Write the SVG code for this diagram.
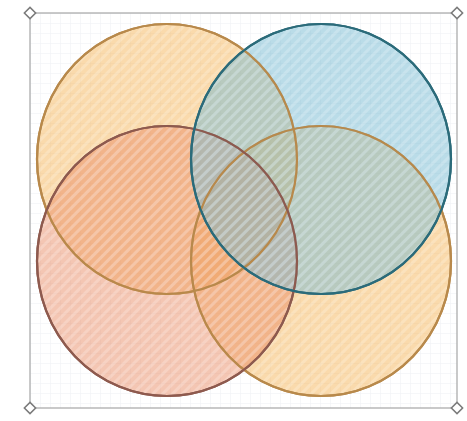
<svg xmlns="http://www.w3.org/2000/svg" width="467" height="421" viewBox="0 0 467 421">
  <defs>
    <pattern id="grid" width="10" height="10" patternUnits="userSpaceOnUse" x="30" y="13">
      <path d="M10 0 L0 0 0 10" fill="none" stroke="#eef0f3" stroke-width="1"/>
    </pattern>
    <pattern id="hOrange" width="7" height="7" patternUnits="userSpaceOnUse" patternTransform="rotate(45)">
      <rect width="7" height="7" fill="#f6b65a" fill-opacity="0.5"/>
      <rect width="3" height="7" fill="#ffffff" fill-opacity="0.2"/>
    </pattern>
    <pattern id="hBlue" width="7" height="7" patternUnits="userSpaceOnUse" patternTransform="rotate(45)">
      <rect width="7" height="7" fill="#76bad2" fill-opacity="0.5"/>
      <rect width="3" height="7" fill="#ffffff" fill-opacity="0.2"/>
    </pattern>
    <pattern id="hRed" width="7" height="7" patternUnits="userSpaceOnUse" patternTransform="rotate(45)">
      <rect width="7" height="7" fill="#ea8d68" fill-opacity="0.5"/>
      <rect width="3" height="7" fill="#ffffff" fill-opacity="0.2"/>
    </pattern>
  </defs>
  <style>
    .sel { fill: url(#grid); stroke: #a6a6a6; stroke-width: 1.2; }
    .handle { fill: #ffffff; stroke: #7a7a7a; stroke-width: 1.5; }
    .set { stroke-width: 2.2; }
    .orange { fill: url(#hOrange); stroke: #b8894b; }
    .blue { fill: url(#hBlue); stroke: #2b6b7a; }
    .red { fill: url(#hRed); stroke: #8e5a4e; }
  </style>
  <rect width="467" height="421" fill="#ffffff"/>
  <g id="selection">
    <rect class="sel" x="30" y="13" width="427" height="395"/>
  </g>
  <g id="set-top-left">
    <ellipse class="set orange" cx="167" cy="159" rx="130" ry="135"/>
  </g>
  <g id="set-bottom-right">
    <ellipse class="set orange" cx="321" cy="261" rx="130" ry="135"/>
  </g>
  <g id="set-bottom-left">
    <ellipse class="set red" cx="167" cy="261" rx="130" ry="135"/>
  </g>
  <g id="set-top-right">
    <ellipse class="set blue" cx="321" cy="159" rx="130" ry="135"/>
  </g>
  <g id="outlines" fill="none" stroke-width="2.2">
    <ellipse cx="167" cy="159" rx="130" ry="135" stroke="#b8894b"/>
    <ellipse cx="321" cy="261" rx="130" ry="135" stroke="#b8894b"/>
    <ellipse cx="167" cy="261" rx="130" ry="135" stroke="#8e5a4e"/>
    <ellipse cx="321" cy="159" rx="130" ry="135" stroke="#2b6b7a"/>
  </g>
  <g id="connectors"></g>
  <g id="handles">
    <rect class="handle" x="-4" y="-4" width="8" height="8" transform="translate(30 13) rotate(45)"/>
    <rect class="handle" x="-4" y="-4" width="8" height="8" transform="translate(457 13) rotate(45)"/>
    <rect class="handle" x="-4" y="-4" width="8" height="8" transform="translate(30 408) rotate(45)"/>
    <rect class="handle" x="-4" y="-4" width="8" height="8" transform="translate(457 408) rotate(45)"/>
  </g>
</svg>
